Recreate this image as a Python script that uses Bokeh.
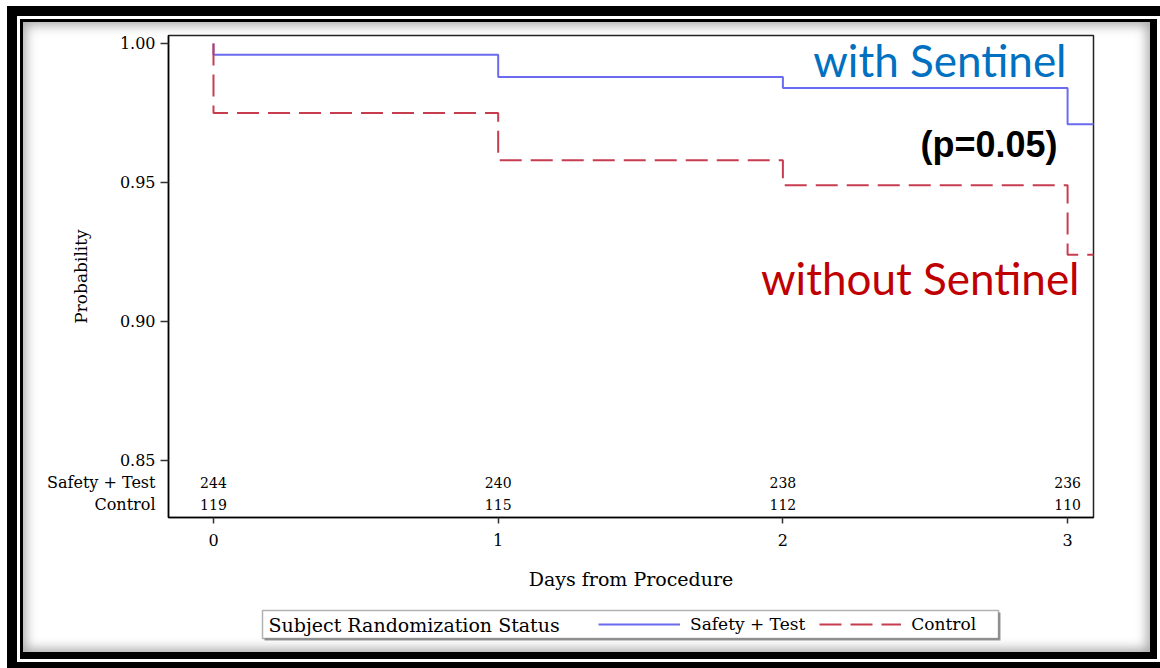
from bokeh.plotting import figure
from bokeh.layouts import column
from bokeh.models import (Range1d, FixedTicker, Label, Legend, LegendItem,
                          ColumnDataSource, PrintfTickFormatter, BoxAnnotation)
from bokeh.core.properties import value
from bokeh.embed import file_html
from bokeh.resources import INLINE

# ---------------- data ----------------
days = [0, 1, 2, 3]
safety_surv = [0.996, 0.988, 0.984, 0.971]
control_surv = [0.975, 0.958, 0.949, 0.924]
safety_risk = [244, 240, 238, 236]
control_risk = [119, 115, 112, 110]
y_ticks = [0.85, 0.90, 0.95, 1.00]
x_ticks = [0, 1, 2, 3]
group_names = ["Safety + Test", "Control"]
legend_title = "Subject Randomization Status"
x_label = "Days from Procedure"
y_label = "Probability"
annot_with = "with Sentinel"
annot_without = "without Sentinel"
annot_p = "(p=0.05)"

# ---------------- layout (page pixels) ----------------
OX, OY = 23, 22                 # content offset inside the decorative frame
W = 1127
H1, H2 = 578, 52                # main chart, legend strip
FLp, FTp, FRp, FBp = 168, 35, 1093, 517
FL, FT, FR, FB = FLp - OX, FTp - OY, FRp - OX, FBp - OY
X0, X1 = -0.158, 3.091
Y0, Y1 = 0.8295, 1.0029
ROW_Y = [0.842, 0.834]          # vertical slots of the at-risk rows
STRIP_TOP = OY + H1             # page y where the legend strip starts
STRIP_BOT = STRIP_TOP + H2
NAN = float("nan")


def dx(px):
    return X0 + (px - FLp) / (FRp - FLp) * (X1 - X0)


def dy(py):
    return Y1 - (py - FTp) / (FBp - FTp) * (Y1 - Y0)


SERIF = "DejaVu Serif"
BLUE = "#6b6bef"
RED = "#c83c50"
DASH = "22 9"

p = figure(width=W, height=H1, x_range=Range1d(X0, X1), y_range=Range1d(Y0, Y1),
           output_backend="svg", toolbar_location=None,
           min_border_left=FL, min_border_top=FT,
           min_border_right=W - FR, min_border_bottom=H1 - FB)
p.background_fill_color = "white"
p.border_fill_alpha = 0
p.outline_line_color = "#222222"
p.outline_line_width = 1.5
p.xgrid.visible = False
p.ygrid.visible = False


def km_xy(t, s):
    xs = [t[0]] + list(t) + [X1 + 0.2]
    ys = [1.0] + list(s) + [s[-1]]
    return xs, ys


sx, sy = km_xy(days, safety_surv)
cx, cy = km_xy(days, control_surv)
p.step(sx, sy, mode="after", line_color=BLUE, line_width=2)
p.step(cx, cy, mode="after", line_color=RED, line_width=2, line_dash=DASH)

# axes
p.xaxis.ticker = FixedTicker(ticks=x_ticks)
p.yaxis.ticker = FixedTicker(ticks=ROW_Y + y_ticks, minor_ticks=y_ticks)
p.yaxis.formatter = PrintfTickFormatter(format="%.2f")
overrides = {}
for ry, name in zip(ROW_Y, group_names):
    overrides[ry] = name
    overrides[str(ry)] = name
p.yaxis.major_label_overrides = overrides

for ax in (p.xaxis[0], p.yaxis[0]):
    ax.major_tick_in = 0
    ax.axis_line_width = 1.5
    ax.axis_line_color = "black"
    ax.major_tick_line_width = 1.5
    ax.major_tick_line_color = "#333333"
    ax.major_label_text_font = SERIF
    ax.major_label_text_font_size = "16px"
    ax.major_label_text_color = "black"
    ax.axis_label_text_font = SERIF
    ax.axis_label_text_font_style = "normal"
    ax.axis_label_text_color = "black"
p.xaxis.minor_tick_line_color = None
p.xaxis.major_tick_out = 6
p.xaxis.major_label_standoff = 10
p.xaxis.axis_label = x_label
p.xaxis.axis_label_text_font_size = "19px"
p.xaxis.axis_label_standoff = 19

p.yaxis.major_tick_line_color = None
p.yaxis.major_tick_out = 8
p.yaxis.minor_tick_in = 0
p.yaxis.minor_tick_out = 8
p.yaxis.minor_tick_line_width = 1.5
p.yaxis.minor_tick_line_color = "#333333"
p.yaxis.major_label_standoff = 5
p.yaxis.axis_label = y_label
p.yaxis.axis_label_text_font_size = "17px"
p.yaxis.axis_label_standoff = -47

# at-risk numbers
for risk, ry in zip([safety_risk, control_risk], ROW_Y):
    src = ColumnDataSource(dict(x=days, y=[ry] * len(days), t=[str(v) for v in risk]))
    p.text(x="x", y="y", text="t", source=src, text_align="center",
           text_baseline="middle", text_font=value(SERIF), text_font_size="14px",
           text_color="black")

# annotations
p.add_layout(Label(x=dx(1066), y=dy(59), text=annot_with, text_align="right",
                   text_baseline="alphabetic", text_font="Lato", text_font_size="44px",
                   text_color="#0070c0"))
p.add_layout(Label(x=dx(1079), y=dy(277), text=annot_without, text_align="right",
                   text_baseline="alphabetic", text_font="Lato", text_font_size="44px",
                   text_color="#c00000"))
p.add_layout(Label(x=dx(1057), y=dy(144), text=annot_p, text_align="right",
                   text_baseline="middle", text_font="Liberation Sans",
                   text_font_style="bold", text_font_size="36px", text_color="black"))

# ---------------- legend strip (frame aligned with the chart's frame) ----------------
q = figure(width=W, height=H2, x_range=Range1d(FLp, FRp),
           y_range=Range1d(STRIP_BOT, STRIP_TOP),
           output_backend="svg", toolbar_location=None, min_border=0,
           x_axis_location=None, y_axis_location=None)
q.outline_line_color = None
q.background_fill_alpha = 0
q.border_fill_alpha = 0
q.xgrid.visible = False
q.ygrid.visible = False
# legend-only renderers (NaN data: nothing drawn in the strip itself)
qb = q.line(x=[NAN, NAN], y=[NAN, NAN], line_color=BLUE, line_width=2)
qr = q.line(x=[NAN, NAN], y=[NAN, NAN], line_color=RED, line_width=2, line_dash=DASH)
q.add_layout(BoxAnnotation(left=264, right=1000, top=612, bottom=640,
                           fill_color="#9a9a9a", fill_alpha=1, line_alpha=0))
q.add_layout(BoxAnnotation(left=262, right=998, top=610, bottom=638,
                           fill_color="white", fill_alpha=1,
                           line_color="black", line_width=1.5))
q.add_layout(Label(x=268, y=624, text=legend_title, text_align="left",
                   text_baseline="middle", text_font=SERIF, text_font_size="19px",
                   text_color="black"))
legend = Legend(items=[LegendItem(label=group_names[0], renderers=[qb]),
                       LegendItem(label=group_names[1], renderers=[qr])],
                location=(598 - FLp, STRIP_BOT - 634), orientation="horizontal",
                glyph_width=82, glyph_height=20, label_height=20, label_standoff=10,
                spacing=14, padding=0, margin=0, border_line_alpha=0,
                background_fill_alpha=0, label_text_font=SERIF,
                label_text_font_size="17px", label_text_color="black")
q.add_layout(legend)

root = column(p, q, styles={
    "margin-left": f"{OX}px",
    "margin-top": f"{OY}px",
    "background-color": "white",
    "box-shadow": ("2px 2px 0 5px black, 2px 2px 0 8px white, "
                   "2px 2px 0 18px black, inset 0 0 12px 3px rgba(0,0,0,0.35)"),
})

open("out.html", "w").write(file_html(root, INLINE))
